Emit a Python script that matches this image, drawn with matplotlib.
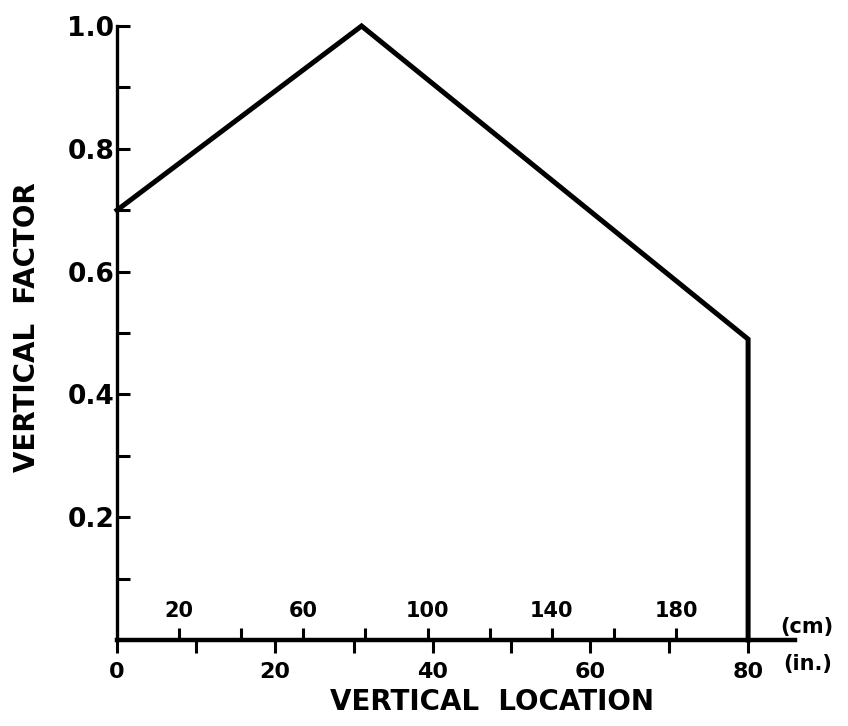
import matplotlib.pyplot as plt
from matplotlib.ticker import FixedLocator, FixedFormatter

# vertical location (in.) and vertical factor
location_in = [0, 31, 80, 80]
vertical_factor = [0.70, 1.0, 0.49, 0.0]

in_ticks = [0, 10, 20, 30, 40, 50, 60, 70, 80]
in_labels = ['0', '', '20', '', '40', '', '60', '', '80']
cm_ticks = [20, 40, 60, 80, 100, 120, 140, 160, 180]
cm_labels = ['20', '', '60', '', '100', '', '140', '', '180']
y_ticks = [0.1, 0.2, 0.3, 0.4, 0.5, 0.6, 0.7, 0.8, 0.9, 1.0]
y_labels = ['', '0.2', '', '0.4', '', '0.6', '', '0.8', '', '1.0']

plt.rcParams['font.family'] = ['DejaVu Sans']
plt.rcParams['font.weight'] = 'bold'

fig = plt.figure(figsize=(8.48, 7.26), dpi=100)
ax = fig.add_axes([0.138, 0.1185, 0.800, 0.8457])

ax.plot(location_in, vertical_factor, color='black', linewidth=3.6,
        solid_joinstyle='miter', clip_on=False)

ax.set_xlim(0, 86)
ax.set_ylim(0, 1.0)

for side in ('top', 'right'):
    ax.spines[side].set_visible(False)
ax.spines['left'].set_linewidth(2.4)
ax.spines['bottom'].set_linewidth(3.2)

# inch scale below the axis
ax.xaxis.set_major_locator(FixedLocator(in_ticks))
ax.xaxis.set_major_formatter(FixedFormatter(in_labels))
ax.tick_params(axis='x', direction='out', length=9, width=2.2, pad=7,
               labelsize=16)

# y scale, ticks pointing into the plot
ax.yaxis.set_major_locator(FixedLocator(y_ticks))
ax.yaxis.set_major_formatter(FixedFormatter(y_labels))
ax.tick_params(axis='y', direction='in', length=9, width=2.2, pad=2,
               labelsize=19)

# centimetre scale on top of the same axis line
sec = ax.secondary_xaxis(0, functions=(lambda x: x * 2.54, lambda x: x / 2.54))
sec.set_alignment('top')
sec.spines['top'].set_visible(False)
sec.spines['bottom'].set_visible(False)
sec.xaxis.set_major_locator(FixedLocator(cm_ticks))
sec.xaxis.set_major_formatter(FixedFormatter(cm_labels))
sec.tick_params(axis='x', direction='out', length=9, width=2.2, pad=5,
                labelsize=15)

ax.set_xlabel('VERTICAL  LOCATION', fontsize=20, fontweight='bold')
ax.xaxis.set_label_coords(0.552, -0.078)
ax.set_ylabel('VERTICAL  FACTOR', fontsize=20, fontweight='bold')
ax.yaxis.set_label_coords(-0.112, 0.51)

fig.text(0.952, 0.136, '(cm)', fontsize=15, ha='center', va='center')
fig.text(0.953, 0.085, '(in.)', fontsize=15, ha='center', va='center')

fig.savefig('out.png', dpi=100, facecolor='white')
